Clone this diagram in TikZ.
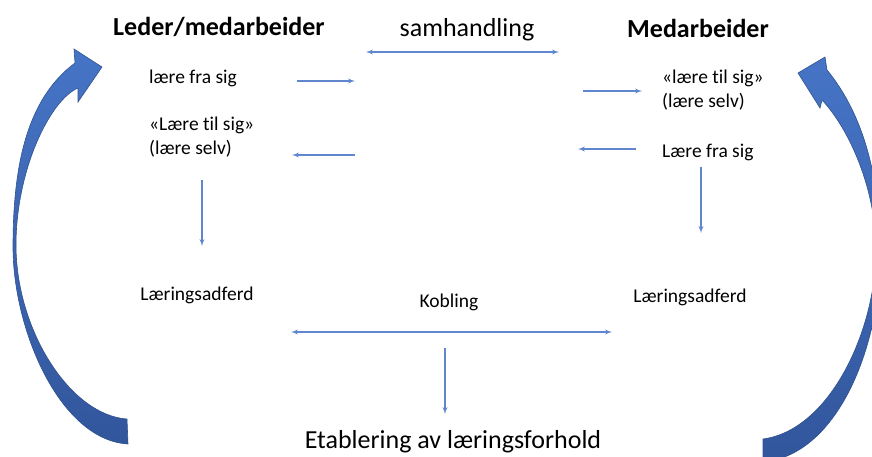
\documentclass[tikz,border=0pt]{standalone}
\usepackage{fontspec}
\setmainfont{Carlito}[Ligatures=NoCommon]
\usetikzlibrary{arrows}
\definecolor{linkblue}{RGB}{96,134,206}
\definecolor{bigblue}{RGB}{70,116,198}
\definecolor{bigdark}{RGB}{50,86,156}
\definecolor{bigedge}{RGB}{47,82,143}

\begin{document}
\begin{tikzpicture}[x=1pt,y=-1pt,>=latex',
	title/.style={font=\fontsize{26}{31}\selectfont\bfseries,inner sep=0pt,anchor=base},
	heading/.style={font=\fontsize{26}{31}\selectfont,inner sep=0pt,anchor=base},
	label/.style={font=\fontsize{19.5}{24}\selectfont,inner sep=0pt,align=left,anchor=base west},
	link/.style={->,draw=linkblue,line width=1.3pt},
	big arrow/.style={top color=bigblue,bottom color=bigdark,draw=bigedge,line width=0.6pt}]

	\useasboundingbox (0,0) rectangle (872,456);

	% curved arrows on the sides
	\begin{scope}
		\clip (0,0) rectangle (872,456);
		\path[big arrow] (128,444) .. controls (60,440) and (13,330) .. (13,247)
			.. controls (13,170) and (25,100) .. (75,63)
			-- (74,49) -- (102,67) -- (78,102) -- (78,88)
			.. controls (50,100) and (16,170) .. (16,245)
			.. controls (16,330) and (70,415) .. (127,419) -- cycle;
		\path[big arrow] (763,462) .. controls (840,455) and (882,340) .. (880,250)
			.. controls (880,170) and (860,110) .. (827,70)
			-- (825,57) -- (798,73) -- (820,108) -- (822,100)
			.. controls (850,130) and (876,190) .. (876,250)
			.. controls (876,330) and (830,430) .. (763,439) -- cycle;
	\end{scope}

	% texts
	\node[title] (leder) at (219,35) {Leder/medarbeider};
	\node[heading] (samh) at (467,36) {samhandling};
	\node[title] (medarb) at (698,37) {Medarbeider};
	\node[label] (lfs) at (149,83) {lære fra sig};
	\node[label] (lts) at (149,154) {«Lære til sig»\\(lære selv)};
	\node[label] (ltsr) at (662,107) {«lære til sig»\\(lære selv)};
	\node[label] (lfsr) at (662,157) {Lære fra sig};
	\node[label,anchor=base] (ladl) at (197,300) {Læringsadferd};
	\node[label,anchor=base] (kob) at (449,307) {Kobling};
	\node[label,anchor=base] (ladr) at (690,302) {Læringsadferd};
	\node[heading] (etab) at (453,448) {Etablering av læringsforhold};

	% arrow ends
	\coordinate (sL) at (366,52);  \coordinate (sR) at (559,52);
	\coordinate (a1) at (297,81);  \coordinate (b1) at (355,81);
	\coordinate (a2) at (355,155); \coordinate (b2) at (292,155);
	\coordinate (a3) at (202,180); \coordinate (b3) at (202,246);
	\coordinate (a4) at (583,91);  \coordinate (b4) at (642,91);
	\coordinate (a5) at (636,149); \coordinate (b5) at (578,149);
	\coordinate (a6) at (701,167); \coordinate (b6) at (701,233);
	\coordinate (kL) at (291,332); \coordinate (kR) at (612,332);
	\coordinate (a8) at (445,348); \coordinate (b8) at (445,414);

	\draw[link,<->] (sL) -- (sR);
	\draw[link] (a1) -- (b1);
	\draw[link] (a2) -- (b2);
	\draw[link] (a3) -- (b3);
	\draw[link] (a4) -- (b4);
	\draw[link] (a5) -- (b5);
	\draw[link] (a6) -- (b6);
	\draw[link,<->] (kL) -- (kR);
	\draw[link] (a8) -- (b8);
\end{tikzpicture}
\end{document}
